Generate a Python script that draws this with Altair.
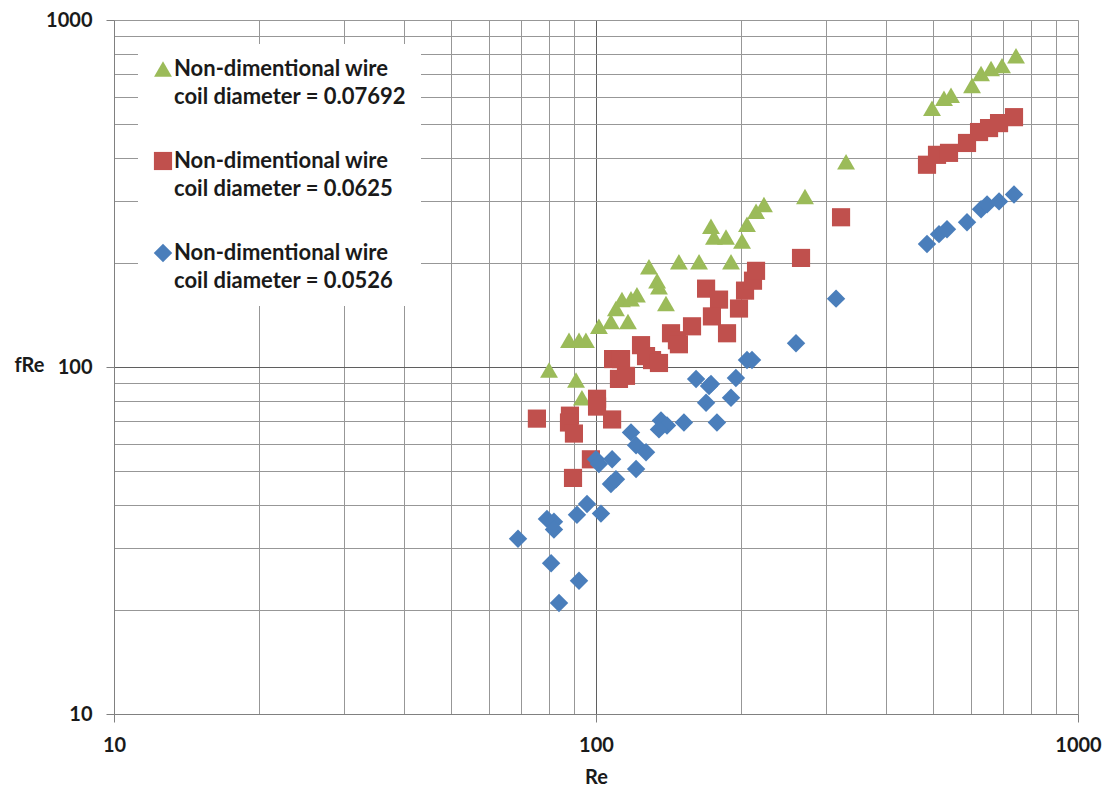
import altair as alt
import pandas as pd

series_names = [
    "Non-dimentional wire|coil diameter = 0.07692",
    "Non-dimentional wire|coil diameter = 0.0625",
    "Non-dimentional wire|coil diameter = 0.0526",
]
series_colors = ["#9BBB59", "#C0504D", "#4A7EBB"]
series_shapes = ["triangle-up", "square", "diamond"]
series_sizes = [320, 340, 230]

re_green = [79.9, 90.9, 93.5, 87.9, 92.2, 95.3, 101.4, 107.4, 110.0, 113.2, 118.2, 121.6, 116.5,
            128.8, 133.9, 135.1, 139.7, 148.6, 163.6, 173.2, 175.7, 186.1, 190.6, 200.9, 205.7,
            214.8, 223.1, 271.4, 330.2, 497.9, 527.2, 545.2, 602.8, 629.3, 660.1, 695.6, 743.7]
fre_green = [98.0, 91.8, 81.5, 119.4, 119.4, 119.4, 131.0, 135.3, 147.4, 156.4, 157.4, 161.6, 135.3,
             194.4, 177.3, 170.4, 152.3, 200.9, 200.9, 254.5, 236.8, 236.8, 200.9, 230.6, 257.9,
             281.0, 294.2, 310.0, 390.3, 556.8, 594.7, 606.5, 647.8, 701.2, 724.4, 738.8, 789.0]

re_red = [75.4, 88.3, 87.9, 90.0, 89.6, 97.6, 100.5, 100.5, 108.0, 108.5, 112.7, 111.6, 115.4,
          124.0, 127.0, 130.7, 135.1, 143.1, 147.2, 148.6, 158.2, 169.2, 180.0, 174.0, 187.0,
          198.0, 203.8, 211.7, 214.8, 266.3, 322.4, 486.1, 509.9, 540.0, 588.5, 623.3, 653.8,
          685.8, 736.6]
fre_red = [71.0, 72.4, 69.2, 64.3, 47.9, 54.2, 81.0, 76.9, 70.6, 105.4, 105.4, 92.4, 94.3,
           115.6, 107.5, 104.7, 102.7, 125.1, 119.4, 116.3, 131.0, 168.2, 156.4, 139.9, 125.1,
           147.4, 166.0, 177.3, 189.3, 206.2, 270.1, 382.7, 408.7, 414.1, 442.2, 475.5, 488.2,
           504.5, 524.8]

re_blue = [68.9, 79.1, 81.8, 81.8, 80.7, 83.8, 92.2, 91.3, 95.8, 102.4, 100.0, 101.4, 108.0,
           107.4, 110.0, 121.1, 118.2, 121.1, 127.0, 136.4, 140.4, 135.1, 152.2, 169.2, 178.2,
           161.3, 173.2, 171.6, 195.1, 190.6, 205.7, 210.7, 260.0, 314.8, 486.1, 514.8, 534.8,
           588.5, 629.3, 647.6, 685.8, 736.6]
fre_blue = [32.0, 36.5, 35.8, 34.0, 27.2, 20.9, 24.2, 37.5, 40.3, 37.8, 54.2, 52.5, 54.2,
            46.0, 47.5, 50.8, 64.8, 59.5, 56.8, 70.1, 67.8, 66.1, 69.2, 78.9, 69.2,
            92.4, 89.4, 88.2, 93.0, 81.5, 104.7, 104.7, 117.1, 157.4, 226.1, 241.5, 249.6,
            261.3, 284.7, 294.2, 300.1, 314.1]

grid_values = [10, 20, 30, 40, 50, 60, 70, 80, 90,
               100, 200, 300, 400, 500, 600, 700, 800, 900, 1000]
label_values = [10, 100, 1000]

rows = []
for name, xs, ys in zip(series_names, [re_green, re_red, re_blue], [fre_green, fre_red, fre_blue]):
    for xv, yv in zip(xs, ys):
        rows.append({"Re": xv, "fRe": yv, "series": name})
df = pd.DataFrame(rows)

FONT = "Lato"
LABEL_DY = -10
major_test = "indexof([10, 100, 1000], datum.value) >= 0"
label_expr = major_test + " ? format(datum.value, 'd') : ''"
grid_color = {"condition": {"test": "datum.value == 100", "value": "#5f5f5f"}, "value": "#979797"}
tick_color = {"condition": {"test": major_test, "value": "#808080"}, "value": "transparent"}

x_axis = alt.Axis(
    values=grid_values, labelExpr=label_expr, grid=True, gridColor=grid_color, gridWidth=1,
    ticks=True, tickColor=tick_color, tickSize=8, domainColor="#808080",
    labelFont=FONT, labelFontSize=20, labelFontWeight="bold", labelColor="#1a1a1a",
    labelPadding=13 - LABEL_DY, labelFlush=False, labelOverlap=False,
    title="Re", titleFont=FONT, titleFontSize=20, titleFontWeight="bold", titleColor="#1a1a1a",
    titleY=69, titleBaseline="alphabetic",
)
y_axis = alt.Axis(
    values=grid_values, labelExpr=label_expr, grid=True, gridColor=grid_color, gridWidth=1,
    ticks=True, tickColor=tick_color, tickSize=8, domainColor="#808080",
    labelFont=FONT, labelFontSize=20, labelFontWeight="bold", labelColor="#1a1a1a",
    labelPadding=14, labelOffset=-LABEL_DY, labelFlush=False, labelOverlap=False,
    title="fRe", titleFont=FONT, titleFontSize=20, titleFontWeight="bold", titleColor="#1a1a1a",
    titleAngle=0, titleAlign="right", titleBaseline="alphabetic", titleX=-70, titleY=351,
)

legend = alt.Legend(
    title=None, orient="none", legendX=24, legendY=24, fillColor="white",
    padding=14, symbolSize=170, symbolStrokeWidth=0, symbolOpacity=1,
    labelFont=FONT, labelFontSize=22, labelFontWeight="bold", labelColor="#1a1a1a",
    labelLimit=400, labelOffset=0, rowPadding=42, labelBaseline="top",
    labelExpr="split(datum.label, '|')",
)

chart = alt.Chart(df).mark_point(filled=True, opacity=1, strokeWidth=0).encode(
    x=alt.X("Re:Q", scale=alt.Scale(type="log", domain=[10, 1000], nice=False), axis=x_axis),
    y=alt.Y("fRe:Q", scale=alt.Scale(type="log", domain=[10, 1000], nice=False), axis=y_axis),
    color=alt.Color("series:N", scale=alt.Scale(domain=series_names, range=series_colors), legend=legend),
    shape=alt.Shape("series:N", scale=alt.Scale(domain=series_names, range=series_shapes), legend=legend),
    size=alt.Size("series:N", scale=alt.Scale(domain=series_names, range=series_sizes), legend=None),
).properties(
    width=964, height=694,
    padding={"left": 106, "top": 12, "right": 24, "bottom": 74},
    autosize="none",
).configure_view(stroke=None).configure(
    background="white",
    style={"guide-label": {"lineHeight": 28, "dy": LABEL_DY}},
)

chart.save("out.html", embed_options={"renderer": "svg", "actions": False})
